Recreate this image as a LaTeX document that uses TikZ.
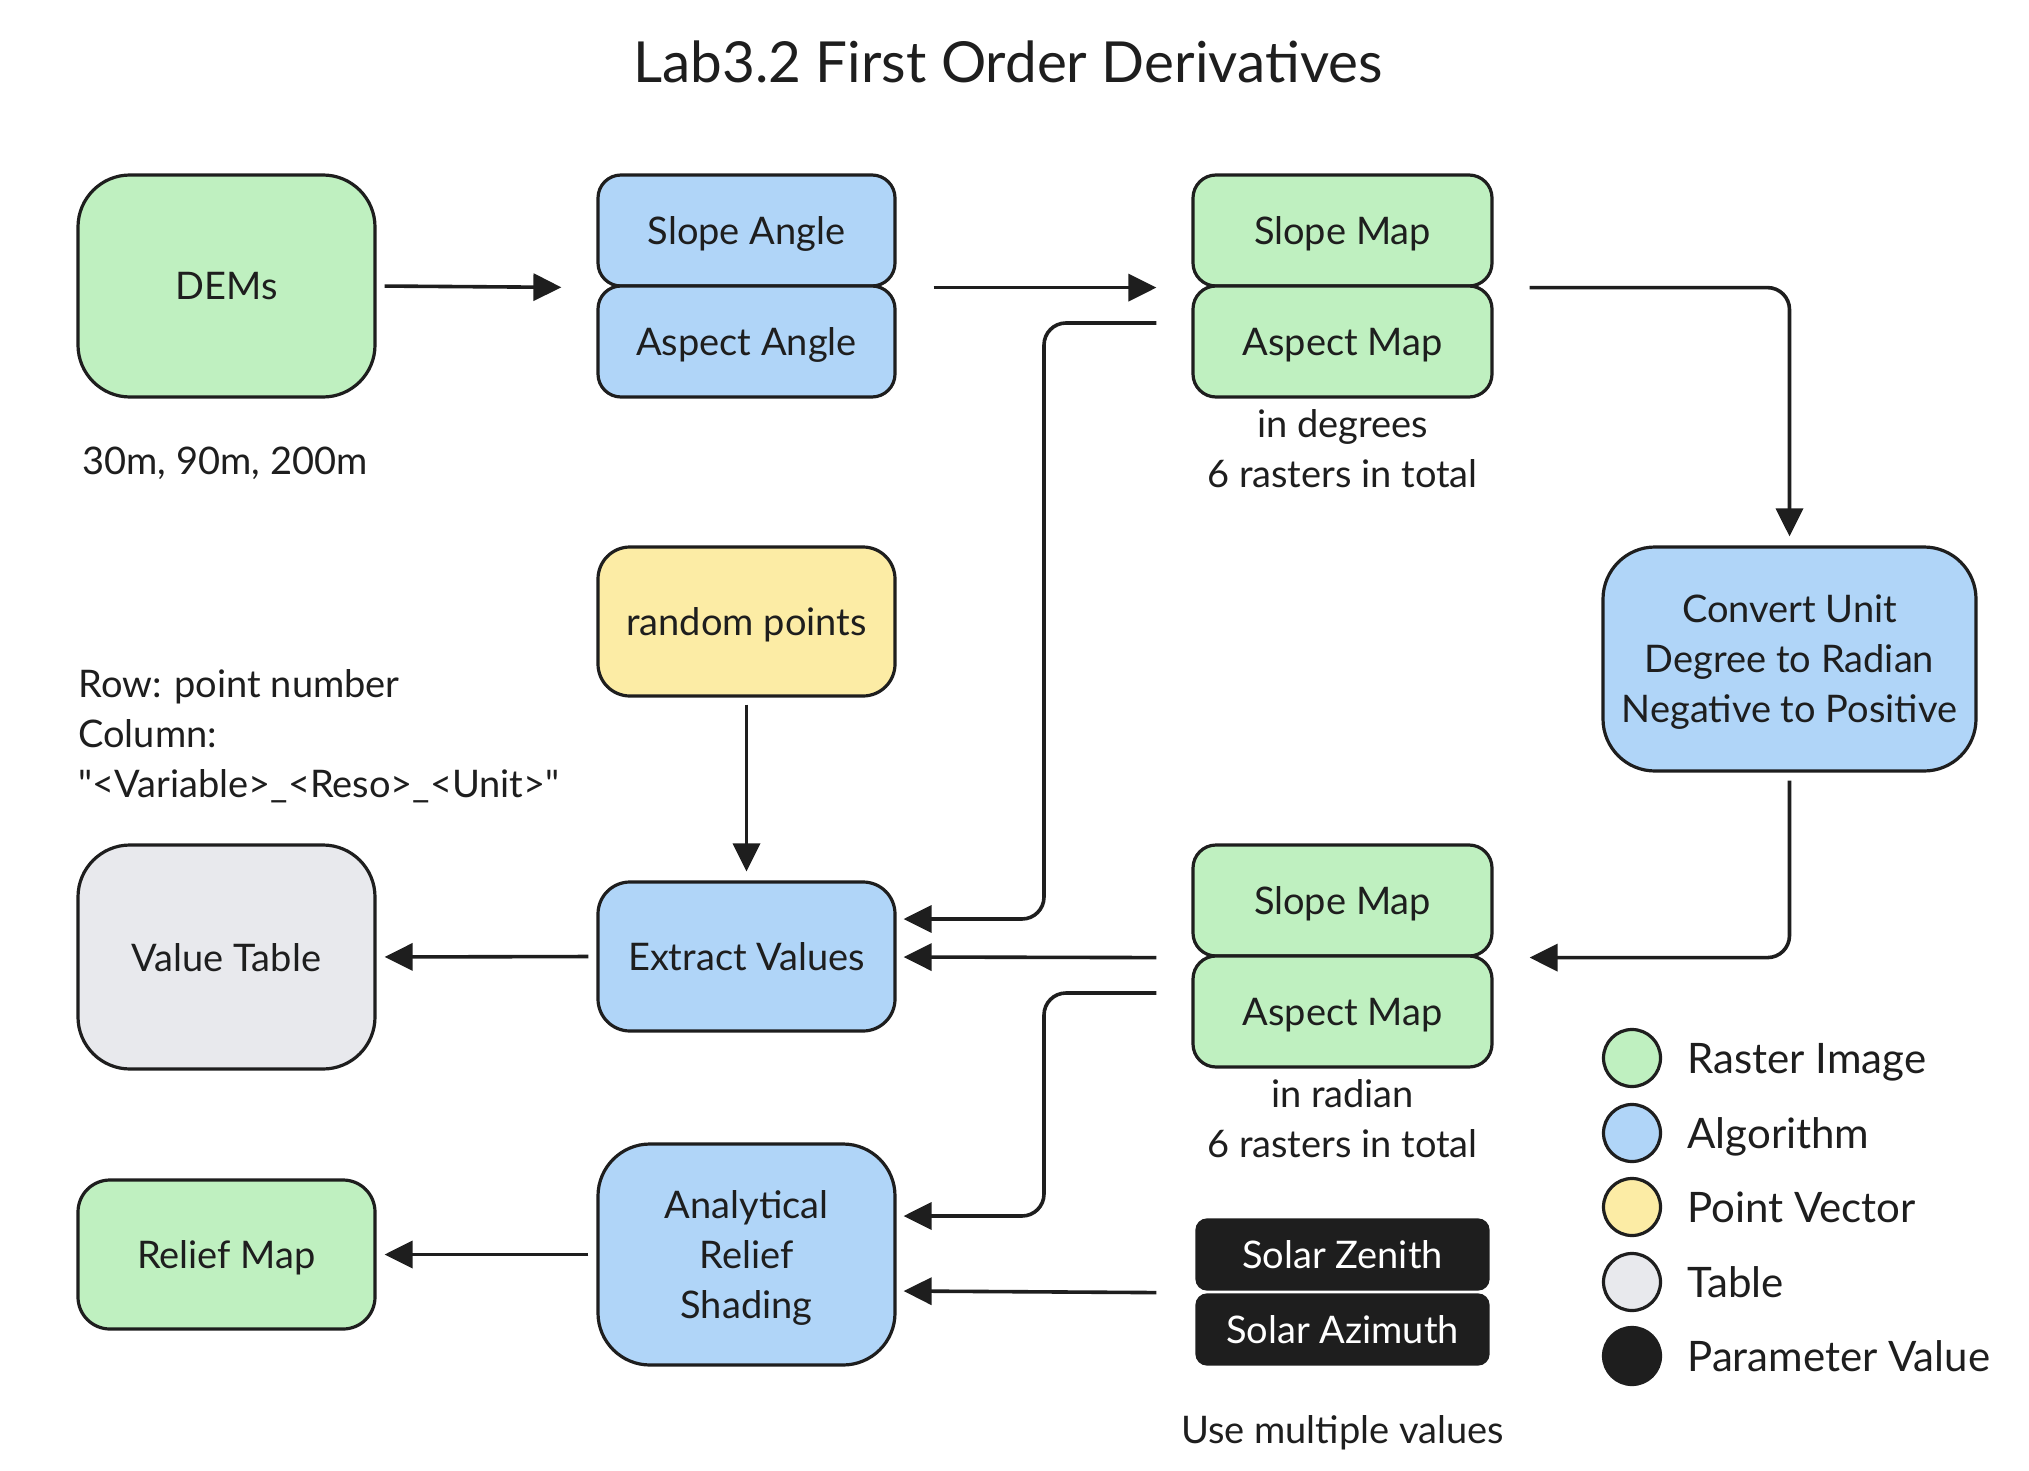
\documentclass[tikz,border=0pt]{standalone}
\usepackage{fontspec}
\setmainfont{Lato}
\newfontfamily\latoplain{Lato}
\usetikzlibrary{arrows.meta}
\definecolor{grn}{HTML}{BFF0C0}
\definecolor{blu}{HTML}{B0D5F8}
\definecolor{yel}{HTML}{FCECA5}
\definecolor{gry}{HTML}{E8E9ED}
\definecolor{ink}{HTML}{1E1E1E}
\tikzset{
  box/.style={draw=ink, line width=1.6pt, align=center, text=ink, inner sep=0pt, text depth=0pt,
    font=\fontsize{19}{25}\selectfont},
  wide/.style={minimum width=148.5pt},
  rasterbox/.style={box, wide, fill=grn},
  algobox/.style={box, wide, fill=blu},
  ptbox/.style={box, wide, fill=yel},
  tabbox/.style={box, wide, fill=gry},
  parbox/.style={box, fill=ink, text=white, minimum width=145.5pt, minimum height=34.5pt, rounded corners=5pt},
  plain/.style={text=ink, align=center, inner sep=0pt, text depth=0pt, font=\fontsize{19}{25}\selectfont},
  legtext/.style={text=ink, anchor=west, inner sep=0pt, text depth=0pt, font=\fontsize{21}{25}\selectfont},
  legdot/.style={circle, draw=ink, line width=1.6pt, minimum size=28.5pt, inner sep=0pt},
  arr/.style={draw=ink, line width=1.8pt, -{Triangle[length=14pt,width=13.5pt]}},
  elbow/.style={arr, rounded corners=11pt}
}
\begin{document}
\begin{tikzpicture}[x=0.5pt,y=-0.5pt]
\useasboundingbox[fill=white] (0,0) rectangle (2029,1471);

\node[text=ink, inner sep=0pt, font=\fontsize{28.3}{32}\selectfont] (title) at (1008,62) {Lab3.2 First Order Derivatives};

% row 1
\node[rasterbox, minimum height=111pt, rounded corners=26pt] (dems) at (226.5,286) {DEMs};
\node[plain] (demsnote) at (225,461) {30m, 90m, 200m};
\node[algobox, minimum height=55.5pt, rounded corners=11.5pt] (slopeA) at (746.5,230.5) {Slope Angle};
\node[algobox, minimum height=55.5pt, rounded corners=11.5pt] (aspA) at (746.5,341.5) {Aspect Angle};
\node[rasterbox, minimum width=149.5pt, minimum height=55.5pt, rounded corners=11.5pt] (slopeMd) at (1342.5,230.5) {Slope Map};
\node[rasterbox, minimum width=149.5pt, minimum height=55.5pt, rounded corners=11.5pt] (aspMd) at (1342.5,341.5) {Aspect Map};
\node[plain] (degnote) at (1342.5,449) {in degrees\\6 rasters in total};

% middle
\node[ptbox, minimum height=74.5pt, rounded corners=16pt] (rand) at (746.5,621.5) {random points};
\node[algobox, minimum width=186.5pt, minimum height=112pt, rounded corners=26pt] (conv) at (1789.5,659) {Convert Unit\\Degree to Radian\\Negative to Positive};
\node[plain, anchor=west, align=left] (rownote) at (78,733.5) {Row: point number\\Column:\\{\latoplain "<Variable>\_<Reso>\_<Unit>"}};

% row 3
\node[tabbox, minimum height=112pt, rounded corners=26pt] (vtab) at (226.5,957) {Value Table};
\node[algobox, minimum height=74.5pt, rounded corners=16pt] (extract) at (746.5,956.5) {Extract Values};
\node[rasterbox, minimum width=149.5pt, minimum height=55.5pt, rounded corners=11.5pt] (slopeMr) at (1342.5,900.5) {Slope Map};
\node[rasterbox, minimum width=149.5pt, minimum height=55.5pt, rounded corners=11.5pt] (aspMr) at (1342.5,1011.5) {Aspect Map};
\node[plain] (radnote) at (1342.5,1118.5) {in radian\\6 rasters in total};

% row 4
\node[rasterbox, minimum height=74.5pt, rounded corners=16pt] (relief) at (226.5,1254.5) {Relief Map};
\node[algobox, minimum height=110.5pt, rounded corners=26pt] (ana) at (746.5,1254.5) {Analytical\\Relief\\Shading};
\node[parbox] (zen) at (1342.5,1254.5) {Solar Zenith};
\node[parbox] (azi) at (1342.5,1329.5) {Solar Azimuth};
\node[plain] (multnote) at (1342.5,1429) {Use multiple values};

% legend
\node[legdot, fill=grn] (l1) at (1632,1058) {};
\node[legdot, fill=blu] (l2) at (1632,1133) {};
\node[legdot, fill=yel] (l3) at (1632,1207) {};
\node[legdot, fill=gry] (l4) at (1632,1282) {};
\node[legdot, fill=ink] (l5) at (1632,1356) {};
\node[legtext] (t1) at (1687,1058) {Raster Image};
\node[legtext] (t2) at (1687,1133) {Algorithm};
\node[legtext] (t3) at (1687,1207) {Point Vector};
\node[legtext] (t4) at (1687,1282) {Table};
\node[legtext] (t5) at (1687,1356) {Parameter Value};

% connectors
\draw[arr, shorten <=4pt, shorten >=17.5pt] (dems.east) -- (slopeA.south west);
\draw[arr, shorten <=18.5pt, shorten >=17.5pt] (slopeA.south east) -- (slopeMd.south west);
\draw[elbow] ([xshift=18pt]slopeMd.south east) -| ([yshift=4.5pt]conv.north);
\draw[elbow] ([xshift=-17.5pt,yshift=9.25pt]aspMd.west) -| (1044,919) -- ([xshift=3.5pt,yshift=18.75pt]extract.east);
\draw[elbow] ([yshift=-4pt]conv.south) |- ([xshift=18pt]slopeMr.south east);
\draw[arr] ([xshift=-17.5pt]slopeMr.south west) -- ([xshift=3.5pt,yshift=-0.25pt]extract.east);
\draw[elbow] ([xshift=-17.5pt,yshift=9.25pt]aspMr.west) -| (1044,1216) -- ([xshift=3.5pt,yshift=19.25pt]ana.east);
\draw[arr] ([xshift=-19.5pt,yshift=-1pt]zen.south west) -- ([xshift=3.5pt,yshift=-18.25pt]ana.east);
\draw[arr, shorten <=3.5pt, shorten >=4.5pt] (rand.south) -- (extract.north);
\draw[arr, shorten <=4pt, shorten >=4pt] (extract.west) -- (vtab.east);
\draw[arr, shorten <=4pt, shorten >=4pt] (ana.west) -- (relief.east);
\end{tikzpicture}
\end{document}
